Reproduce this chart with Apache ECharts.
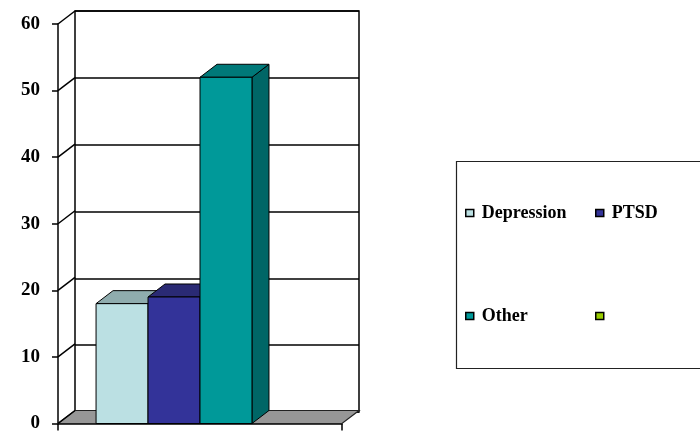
<!DOCTYPE html>
<html>
<head>
<meta charset="utf-8">
<script src="https://cdn.jsdelivr.net/npm/echarts@6/dist/echarts.min.js"></script>
<style>html,body{margin:0;padding:0;background:#fff;}#chart{width:700px;height:433px;}</style>
</head>
<body>
<div id="chart"></div>
<script>
// ---- data ----
const categories = ['All'];
const seriesNames = ['Depression', 'PTSD', 'Other', ' '];
const depression = [18];
const ptsd = [19];
const other = [52];
const blank = [null];
const yTicks = [0, 10, 20, 30, 40, 50, 60];

// ---- styling ----
const FONT = "'Liberation Serif', 'Times New Roman', serif";
const DX = 17, DY = -13;           // 3D depth offset
const CAT_GAP = 0.268;             // gap share of the category band
const N_SERIES = 4;
const faceColors = [
  { front: '#BBE0E3', top: '#8FACAE', side: '#8FACAE' },
  { front: '#333399', top: '#2A2A74', side: '#26266E' },
  { front: '#009999', top: '#007979', side: '#006666' },
  { front: '#99CC00', top: '#7AA300', side: '#6B8F00' }
];
const seriesValues = [depression, ptsd, other, blank];

function barRenderer(k) {
  return function (params, api) {
    const v = api.value(1);
    if (v == null || isNaN(v)) return null;
    const cat = api.value(0);
    const base = api.coord([cat, 0]);
    const top = api.coord([cat, v]);
    const band = api.size([1, 0])[0];
    const gap = band * CAT_GAP;
    const w = (band - gap) / N_SERIES;
    const x0 = base[0] - band / 2 + gap / 2 + k * w;
    const x1 = x0 + w;
    const yb = base[1], yt = top[1];
    const c = faceColors[k];
    const stroke = { stroke: '#000', lineWidth: 1 };
    return {
      type: 'group',
      children: [
        { type: 'polygon', shape: { points: [[x1, yb], [x1 + DX, yb + DY], [x1 + DX, yt + DY], [x1, yt]] },
          style: Object.assign({ fill: c.side }, stroke) },
        { type: 'polygon', shape: { points: [[x0, yt], [x0 + DX, yt + DY], [x1 + DX, yt + DY], [x1, yt]] },
          style: Object.assign({ fill: c.top }, stroke) },
        { type: 'rect', shape: { x: x0, y: yt, width: w, height: yb - yt },
          style: Object.assign({ fill: c.front }, stroke) }
      ]
    };
  };
}

function wallRenderer(params, api) {
  const v = api.value(1);
  const p = api.coord([0, v]);
  const band = api.size([1, 0])[0];
  const xl = p[0] - band / 2;
  const xr = p[0] + band / 2;
  const children = [
    { type: 'line', shape: { x1: xl, y1: p[1], x2: xl + DX, y2: p[1] + DY },
      style: { stroke: '#000', lineWidth: 1.5 } }
  ];
  if (v === 0) {
    children.unshift({
      type: 'polygon',
      shape: { points: [[xl, p[1]], [xr, p[1]], [xr + DX, p[1] + DY], [xl + DX, p[1] + DY]] },
      style: { fill: '#979797', stroke: '#222', lineWidth: 1.2 }
    });
  }
  return { type: 'group', children: children };
}

const series = [
  {
    type: 'custom', name: 'walls', xAxisIndex: 0, yAxisIndex: 0, z: 1,
    data: yTicks.map(v => [0, v]), encode: { x: 0, y: 1 },
    renderItem: wallRenderer, silent: true
  }
];
seriesNames.forEach((name, k) => {
  series.push({
    type: 'custom', name: name, xAxisIndex: 0, yAxisIndex: 0, z: 2 + k,
    itemStyle: { color: faceColors[k].front },
    data: seriesValues[k].map((v, i) => [i, v]),
    encode: { x: 0, y: 1 },
    renderItem: barRenderer(k)
  });
});

function legendAt(name, left, top) {
  return {
    data: [name], left: left, top: top, orient: 'horizontal', padding: 0,
    icon: 'rect', itemWidth: 8, itemHeight: 7,
    itemStyle: { borderColor: '#000', borderWidth: 1.5 },
    textStyle: { fontFamily: FONT, fontWeight: 'bold', fontSize: 18, color: '#000', padding: [0, 0, 0, 3] },
    selectedMode: false
  };
}

const option = {
  animation: false,
  backgroundColor: '#fff',
  grid: [
    { left: 58, right: 358, top: 24, bottom: 8 },
    { left: 75, right: 341, top: 11, bottom: 21, show: true, borderColor: '#000', borderWidth: 1.5 }
  ],
  xAxis: [
    { type: 'category', gridIndex: 0, data: categories, boundaryGap: true,
      axisLine: { lineStyle: { color: '#000', width: 1.5 } },
      axisTick: { show: true, length: 7, lineStyle: { color: '#000', width: 1.5 } },
      axisLabel: { show: false } },
    { type: 'value', gridIndex: 1, show: false }
  ],
  yAxis: [
    { type: 'value', gridIndex: 0, min: 0, max: 60, interval: 10,
      axisLine: { show: true, lineStyle: { color: '#000', width: 1.5 } },
      axisTick: { show: true, length: 6, lineStyle: { color: '#000', width: 1.5 } },
      splitLine: { show: false },
      axisLabel: { fontFamily: FONT, fontWeight: 'bold', fontSize: 19, color: '#000', margin: 18 } },
    { type: 'value', gridIndex: 1, min: 0, max: 60, interval: 10,
      axisLine: { show: false }, axisTick: { show: false }, axisLabel: { show: false },
      splitLine: { show: true, lineStyle: { color: '#000', width: 1.5 } } }
  ],
  legend: [
    legendAt('Depression', 465, 204),
    legendAt('PTSD', 595, 204),
    legendAt('Other', 465, 307),
    legendAt(' ', 595, 307)
  ],
  graphic: [
    { type: 'rect', left: 454, top: 159, shape: { width: 260, height: 207 },
      style: { fill: 'none', stroke: '#222', lineWidth: 1.2 }, z: -1 }
  ],
  series: series
};

const chart = echarts.init(document.getElementById('chart'), null, { renderer: 'canvas' });
chart.setOption(option);
</script>
</body>
</html>
